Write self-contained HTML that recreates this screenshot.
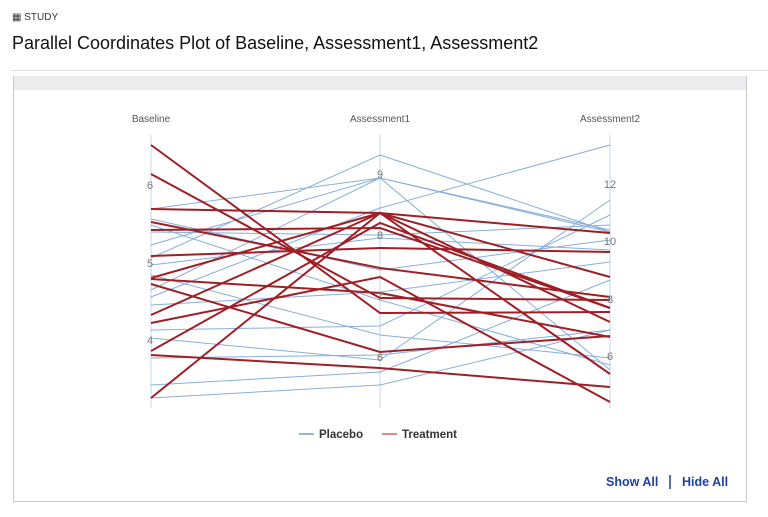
<!DOCTYPE html>
<html><head><meta charset="utf-8"><style>
body{margin:0;width:768px;height:517px;background:#fff;font-family:"Liberation Sans",sans-serif;position:relative;overflow:hidden}
.t{position:absolute}
</style></head><body>
<div class="t" style="left:12px;top:12px;font-size:10px;color:#333">&#9638; STUDY</div>
<div class="t" style="left:12px;top:33px;font-size:18px;color:#111">Parallel Coordinates Plot of Baseline, Assessment1, Assessment2</div>
<div class="t" style="left:10px;top:70px;width:758px;height:1px;background:#e3e3e3"></div>
<div class="t" style="left:13px;top:76px;width:732px;height:425px;border:1px solid #c8ccd2;border-top:none"></div>
<div class="t" style="left:14px;top:76px;width:732px;height:14px;background:#ececec"></div>
<svg class="t" style="left:0;top:0" width="768" height="517">
<g font-size="10" fill="#555" text-anchor="middle">
<text x="151" y="122">Baseline</text><text x="380" y="122">Assessment1</text><text x="610" y="122">Assessment2</text>
</g>
<g stroke="#c5d5ee" stroke-width="1"><line x1="151" y1="135" x2="151" y2="408"/><line x1="380" y1="135" x2="380" y2="408"/><line x1="610" y1="135" x2="610" y2="408"/></g>
<g stroke="#6a9bd2" stroke-width="1" fill="none" opacity="0.8">
<polyline points="151,209 380,178 610,230"/>
<polyline points="151,219 380,270 610,240"/>
<polyline points="151,225 380,300 610,365"/>
<polyline points="151,245 380,178 610,232"/>
<polyline points="151,258 380,155 610,232"/>
<polyline points="151,265 380,238 610,250"/>
<polyline points="151,275 380,335 610,358"/>
<polyline points="151,297 380,208 610,145"/>
<polyline points="151,305 380,292 610,262"/>
<polyline points="151,330 380,326 610,215"/>
<polyline points="151,338 380,360 610,200"/>
<polyline points="151,358 380,355 610,330"/>
<polyline points="151,385 380,372 610,280"/>
<polyline points="151,398 380,385 610,330"/>
<polyline points="151,232 380,235 610,225"/>
<polyline points="151,290 380,178 610,370"/>
</g>
<g stroke="#9e1f26" stroke-width="2" fill="none">
<polyline points="151,145 380,313 610,312"/>
<polyline points="151,174 380,298 610,300"/>
<polyline points="151,209 380,213 610,233"/>
<polyline points="151,222 380,268 610,297"/>
<polyline points="151,230 380,228 610,308"/>
<polyline points="151,256 380,248 610,252"/>
<polyline points="151,278 380,213 610,322"/>
<polyline points="151,279 380,293 610,337"/>
<polyline points="151,284 380,352 610,336"/>
<polyline points="151,315 380,213 610,277"/>
<polyline points="151,323 380,277 610,402"/>
<polyline points="151,351 380,223 610,308"/>
<polyline points="151,355 380,368 610,387"/>
<polyline points="151,398 380,213 610,374"/>
</g>
<g font-size="11" fill="#777" text-anchor="middle">
<text x="150" y="189">6</text><text x="150" y="267">5</text><text x="150" y="344">4</text>
<text x="380" y="178">9</text><text x="380" y="239">8</text><text x="380" y="300">7</text><text x="380" y="361">6</text>
<text x="610" y="188">12</text><text x="610" y="245">10</text><text x="610" y="303">8</text><text x="610" y="360">6</text>
</g>
<line x1="299" y1="434" x2="314" y2="434" stroke="#6a9bd2" stroke-width="1.5"/>
<line x1="382" y1="434" x2="397" y2="434" stroke="#d06060" stroke-width="1.5"/>
<g font-size="11.5" font-weight="bold" fill="#333"><text x="319" y="438">Placebo</text><text x="402" y="438">Treatment</text></g>
<g font-size="12.5" font-weight="bold" fill="#1f3fa0"><text x="606" y="486">Show All</text><text x="682" y="486">Hide All</text></g>
<line x1="670" y1="475" x2="670" y2="489" stroke="#1f3fa0" stroke-width="1.5"/>
</svg>
</body></html>
